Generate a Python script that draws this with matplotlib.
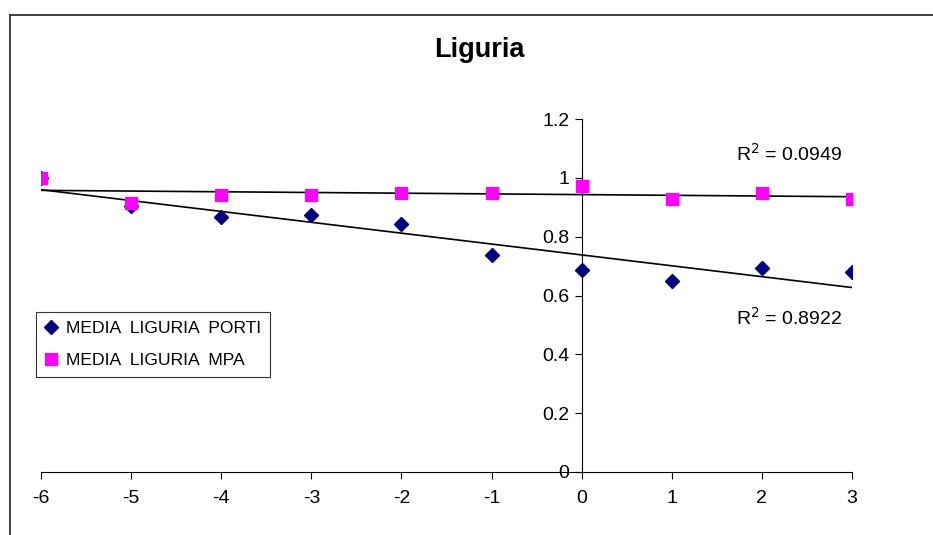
import numpy as np
import matplotlib
matplotlib.use("Agg")
import matplotlib.pyplot as plt
from matplotlib.lines import Line2D

plt.rcParams['font.family'] = ['Liberation Sans', 'DejaVu Sans']
plt.rcParams['axes.unicode_minus'] = False

# Years relative to the reference year
anni = [-6, -5, -4, -3, -2, -1, 0, 1, 2, 3]
media_porti = [1.000, 0.904, 0.866, 0.874, 0.842, 0.738, 0.687, 0.649, 0.693, 0.681]
media_mpa = [1.000, 0.915, 0.941, 0.941, 0.947, 0.947, 0.972, 0.927, 0.949, 0.927]
r2_porti = "0.8922"
r2_mpa = "0.0949"

fig = plt.figure(figsize=(9.33, 5.35), dpi=100)
ax = fig.add_axes([41 / 933, 63 / 535, 811 / 933, 353 / 535])

ax.plot(anni, media_porti, linestyle='none', marker='D', markersize=7.5,
        color='#000080', label='MEDIA  LIGURIA  PORTI', zorder=3)
ax.plot(anni, media_mpa, linestyle='none', marker='s', markersize=8,
        color='#FF00FF', label='MEDIA  LIGURIA  MPA', zorder=4)

# Linear trend lines
x = np.array(anni, dtype=float)
for serie in (media_porti, media_mpa):
    coef = np.polyfit(x, np.array(serie), 1)
    ax.plot(x, np.polyval(coef, x), color='black', linewidth=1.2, zorder=2)

ax.set_xlim(-6, 3)
ax.set_ylim(0, 1.2)
ax.set_xticks(anni)
ax.set_yticks([0, 0.2, 0.4, 0.6, 0.8, 1.0, 1.2])
ax.set_yticklabels(['0', '0.2', '0.4', '0.6', '0.8', '1', '1.2'])

ax.spines['top'].set_visible(False)
ax.spines['right'].set_visible(False)
ax.spines['left'].set_position(('data', 0))
ax.spines['bottom'].set_position(('data', 0))
for s in ('left', 'bottom'):
    ax.spines[s].set_linewidth(0.8)
ax.tick_params(axis='both', direction='out', length=5, width=0.8,
               labelsize=14, colors='black')
ax.tick_params(axis='x', pad=8)
ax.tick_params(axis='y', pad=4)
ax.patch.set_alpha(0)

ax.text(2.3, 1.08, 'R$^2$ = ' + r2_mpa, ha='center', va='center', fontsize=14)
ax.text(2.3, 0.525, 'R$^2$ = ' + r2_porti, ha='center', va='center', fontsize=14)

fig.text(479 / 933, 1 - 50 / 535, 'Liguria', ha='center', va='center',
         fontsize=19.5, fontweight='bold')

leg = ax.legend(loc='upper left', bbox_to_anchor=(36 / 933, 1 - 312 / 535),
                bbox_transform=fig.transFigure, frameon=True, fancybox=False,
                fontsize=12.6, handlelength=0.7, handletextpad=0.5,
                borderpad=0.5, labelspacing=0.95, borderaxespad=0)
leg.get_frame().set_edgecolor('black')
leg.get_frame().set_linewidth(0.8)

# Chart-area border
fig.add_artist(Line2D([10 / 933, 1.0], [1 - 15 / 535, 1 - 15 / 535],
                      transform=fig.transFigure, color='#333333', linewidth=1.3))
fig.add_artist(Line2D([10 / 933, 10 / 933], [0, 1 - 15 / 535],
                      transform=fig.transFigure, color='#333333', linewidth=1.3))

fig.savefig('out.png', dpi=100, facecolor='white')
